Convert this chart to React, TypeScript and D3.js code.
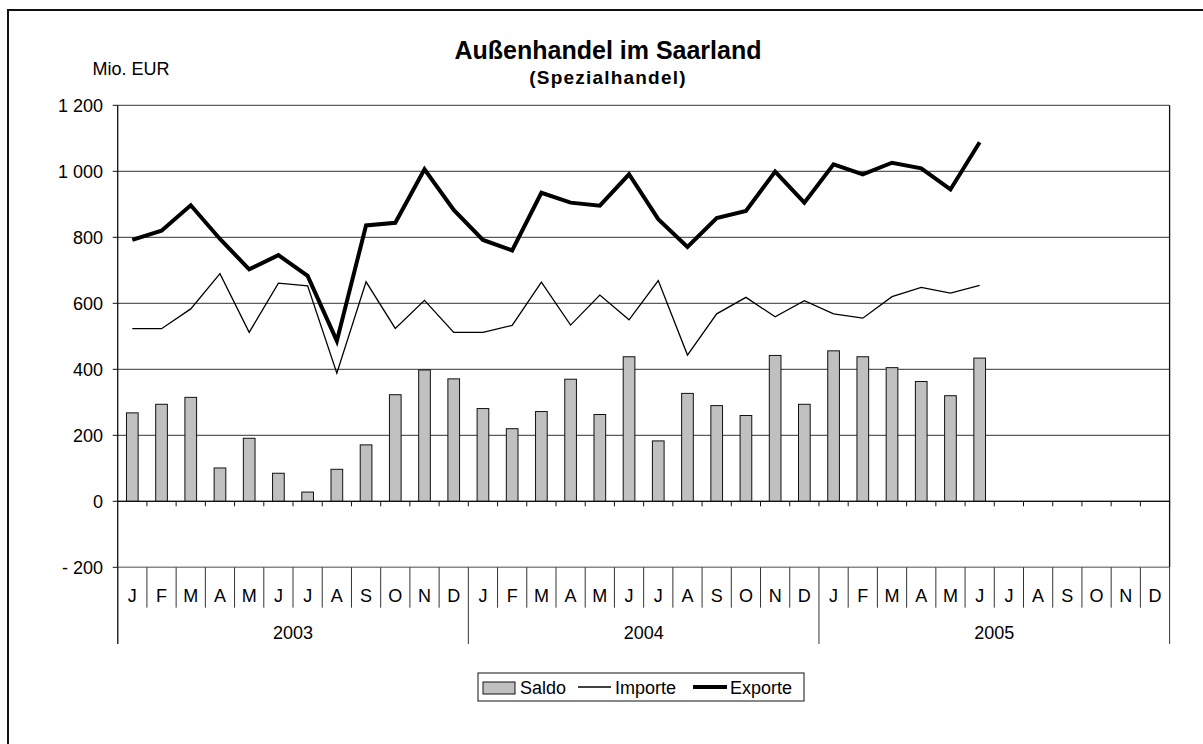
import React from "react";
import * as d3 from "d3";

// monthly values, Mio. EUR (Jan 2003 - Jun 2005)
const months = ["J", "F", "M", "A", "M", "J", "J", "A", "S", "O", "N", "D"];
const years = ["2003", "2004", "2005"];
const saldo = [
  268, 294, 315, 101, 191, 85, 28, 97, 171, 323, 398, 371,
  281, 220, 272, 370, 263, 438, 183, 327, 290, 260, 442, 294,
  456, 438, 405, 363, 320, 434,
];
const importe = [
  523, 523, 583, 690, 512, 661, 653, 388, 665, 524, 609, 512,
  512, 533, 664, 534, 625, 550, 669, 443, 568, 618, 559, 608,
  568, 555, 620, 648, 631, 654,
];
const exporte = [
  792, 820, 897, 795, 703, 746, 683, 486, 836, 844, 1006, 883,
  792, 760, 935, 905, 896, 991, 855, 771, 858, 880, 999, 905,
  1021, 991, 1026, 1009, 945, 1088,
];
const yTicks = [-200, 0, 200, 400, 600, 800, 1000, 1200];

const FONT = "'Liberation Sans', Arial, sans-serif";

export default function App() {
  const width = 1203;
  const height = 744;
  const left = 117.7;
  const right = 1169.6;
  const top = 105.3;
  const bottom = 567.3;

  const slots = d3.range(years.length * months.length);
  const x = d3
    .scaleBand<number>()
    .domain(slots)
    .range([left, right])
    .paddingInner(0.6)
    .paddingOuter(0.3);
  const step = x.step();
  const cx = (i: number) => (x(i) as number) + x.bandwidth() / 2;
  const boundary = (k: number) => left + k * step;

  const y = d3.scaleLinear().domain([-200, 1200]).range([bottom, top]);

  const line = d3
    .line<number>()
    .x((_, i) => cx(i))
    .y((d) => y(d));

  const fmt = (v: number) => {
    const s = d3.format(",")(Math.abs(v)).replace(",", " ");
    return v < 0 ? "- " + s : s;
  };

  const monthRowBottom = 607.7;
  const yearRowBottom = 644;

  return (
    <svg
      width={width}
      height={height}
      style={{ position: "absolute", left: 0, top: 0, background: "#fff" }}
      fontFamily={FONT}
    >
      {/* outer frame, right and bottom edges run off the picture */}
      <rect x={8} y={10} width={1220} height={760} fill="#fff" stroke="#111" strokeWidth={2} />

      {/* title */}
      <text x={608} y={59} textAnchor="middle" fontSize={25} fontWeight="bold">
        Außenhandel im Saarland
      </text>
      <text x={608} y={84} textAnchor="middle" fontSize={19} fontWeight="bold" letterSpacing={1.2}>
        (Spezialhandel)
      </text>
      <text x={92.5} y={75} fontSize={18}>
        Mio. EUR
      </text>

      {/* gridlines */}
      {yTicks.map((t) => (
        <line
          key={`g${t}`}
          x1={left}
          x2={right}
          y1={y(t)}
          y2={y(t)}
          stroke={t === -200 ? "#888" : "#333"}
          strokeWidth={t === -200 ? 1.6 : 1}
        />
      ))}
      <line x1={right} x2={right} y1={top} y2={bottom} stroke="#111" strokeWidth={1.3} />

      {/* y axis */}
      <line x1={left} x2={left} y1={top} y2={yearRowBottom} stroke="#111" strokeWidth={1.3} />
      {yTicks.map((t) => (
        <g key={`yt${t}`}>
          <line x1={left - 5} x2={left} y1={y(t)} y2={y(t)} stroke="#111" />
          <text x={103} y={y(t)} dy="0.35em" textAnchor="end" fontSize={18}>
            {fmt(t)}
          </text>
        </g>
      ))}

      {/* bars */}
      {saldo.map((d, i) => (
        <rect
          key={`b${i}`}
          x={x(i)}
          y={y(Math.max(0, d))}
          width={x.bandwidth()}
          height={Math.abs(y(d) - y(0))}
          fill="#c0c0c0"
          stroke="#111"
          strokeWidth={1}
        />
      ))}

      {/* category axis at zero with ticks */}
      <line x1={left} x2={right} y1={y(0)} y2={y(0)} stroke="#111" strokeWidth={1.2} />
      {d3.range(1, slots.length + 1).map((k) => (
        <line
          key={`xt${k}`}
          x1={boundary(k)}
          x2={boundary(k)}
          y1={y(0)}
          y2={y(0) + 5}
          stroke="#111"
        />
      ))}

      {/* lines */}
      <path d={line(importe) ?? ""} fill="none" stroke="#000" strokeWidth={1.3} strokeLinejoin="miter" />
      <path d={line(exporte) ?? ""} fill="none" stroke="#000" strokeWidth={4} strokeLinejoin="miter" />

      {/* month / year labels */}
      {d3.range(0, slots.length + 1).map((k) => (
        <line
          key={`ms${k}`}
          x1={boundary(k)}
          x2={boundary(k)}
          y1={bottom}
          y2={k % 12 === 0 ? yearRowBottom : monthRowBottom}
          stroke="#333"
          strokeWidth={1}
        />
      ))}
      {slots.map((i) => (
        <text key={`ml${i}`} x={cx(i)} y={595.5} dy="0.35em" textAnchor="middle" fontSize={18}>
          {months[i % 12]}
        </text>
      ))}
      {years.map((yr, j) => (
        <text
          key={yr}
          x={(boundary(j * 12) + boundary(j * 12 + 12)) / 2}
          y={633}
          dy="0.35em"
          textAnchor="middle"
          fontSize={18}
        >
          {yr}
        </text>
      ))}

      {/* legend */}
      <g fontSize={18}>
        <rect x={478} y={673} width={326} height={28} fill="#fff" stroke="#111" strokeWidth={1} />
        <rect x={483} y={682} width={32} height={12} fill="#c0c0c0" stroke="#111" strokeWidth={1} />
        <text x={520} y={687.5} dy="0.35em">Saldo</text>
        <line x1={578} x2={611} y1={687} y2={687} stroke="#000" strokeWidth={1.3} />
        <text x={615} y={687.5} dy="0.35em">Importe</text>
        <line x1={693} x2={727} y1={687} y2={687} stroke="#000" strokeWidth={4} />
        <text x={730} y={687.5} dy="0.35em">Exporte</text>
      </g>
    </svg>
  );
}
